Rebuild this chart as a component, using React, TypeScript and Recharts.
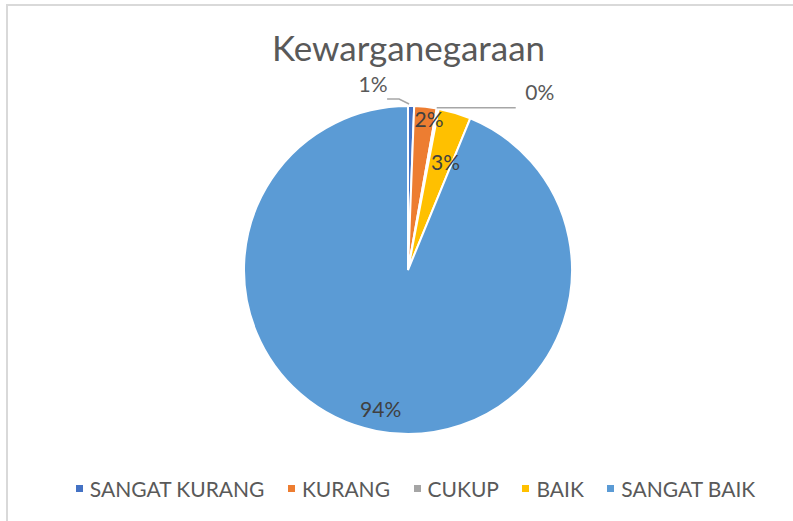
import React from 'react';
import { PieChart, Pie, Cell, Legend } from 'recharts';

const categories = ['SANGAT KURANG', 'KURANG', 'CUKUP', 'BAIK', 'SANGAT BAIK'];
const values = [0.6, 2.2, 0.2, 3.2, 93.8];
const colors = ['#4472C4', '#ED7D31', '#A5A5A5', '#FFC000', '#5B9BD5'];

const data = categories.map((name, i) => ({ name, value: values[i] }));

const RAD = Math.PI / 180;
const FONT = 'Lato, "Open Sans", sans-serif';
const TEXT = '#595959';

// where each label sits: inside (radius fraction) or outside with a leader line
const labelPlacement = [
  { side: 'left' },
  { inside: 0.93, shift: 1.8 },
  { side: 'right' },
  { inside: 0.7, shift: 2.5 },
  { inside: 0.86, shift: 0 },
];

function renderLabel(props: any) {
  const { cx, cy, midAngle, outerRadius, percent, index } = props;
  const text = `${Math.round(percent * 100)}%`;
  const p: any = labelPlacement[index];
  if (p.inside) {
    const a = (midAngle - p.shift) * RAD;
    const r = outerRadius * p.inside;
    const x = cx + r * Math.cos(-a);
    const y = cy + r * Math.sin(-a);
    return (
      <text x={x} y={y} fill="#404040" fontSize={21} fontFamily={FONT} textAnchor="middle" dominantBaseline="central">
        {text}
      </text>
    );
  }
  const a = midAngle * RAD;
  const ex = cx + outerRadius * Math.cos(-a);
  const ey = cy + outerRadius * Math.sin(-a);
  if (p.side === 'left') {
    const pts = `${ex - 2},${ey - 2} ${ex - 12},${ey - 7} ${ex - 24},${ey - 7}`;
    return (
      <g>
        <polyline points={pts} fill="none" stroke="#A6A6A6" strokeWidth={1.5} />
        <text x={ex - 38} y={ey - 23} fill={TEXT} fontSize={21} fontFamily={FONT} textAnchor="middle" dominantBaseline="central">
          {text}
        </text>
      </g>
    );
  }
  const pts = `${ex - 1},${ey - 1} ${ex + 78},${ey - 1}`;
  return (
    <g>
      <polyline points={pts} fill="none" stroke="#A6A6A6" strokeWidth={1.5} />
      <text x={ex + 102} y={ey - 17} fill={TEXT} fontSize={21} fontFamily={FONT} textAnchor="middle" dominantBaseline="central">
        {text}
      </text>
    </g>
  );
}

function renderLegend() {
  return (
    <div style={{ display: 'flex', justifyContent: 'center', gap: 23.5, fontFamily: FONT, fontSize: 21, color: TEXT }}>
      {categories.map((c, i) => (
        <div key={c} style={{ display: 'flex', alignItems: 'center', gap: 7 }}>
          <span style={{ width: 7, height: 7, background: colors[i], display: 'inline-block' }} />
          <span>{c}</span>
        </div>
      ))}
    </div>
  );
}

export default function App() {
  return (
    <div style={{ position: 'fixed', left: 0, top: 0, width: 793, height: 521, overflow: 'hidden', background: '#fff' }}>
      <div
        style={{
          position: 'absolute',
          left: 6,
          top: 4,
          width: 820,
          height: 540,
          border: '2px solid #D9D9D9',
          boxSizing: 'border-box',
        }}
      />
      <div
        style={{
          position: 'absolute',
          left: 0,
          width: 817,
          top: 26,
          textAlign: 'center',
          fontFamily: FONT,
          fontSize: 35,
          color: TEXT,
        }}
      >
        Kewarganegaraan
      </div>
      <div style={{ position: 'absolute', left: 0, top: 0 }}>
        <PieChart width={817} height={521} margin={{ top: 0, right: 0, bottom: 0, left: 0 }}>
          <Pie
            data={data}
            dataKey="value"
            nameKey="name"
            cx={408}
            cy={270}
            outerRadius={164}
            startAngle={90}
            endAngle={-270}
            stroke="#fff"
            strokeWidth={2}
            label={renderLabel}
            labelLine={false}
            isAnimationActive={false}
          >
            {data.map((d, i) => (
              <Cell key={d.name} fill={colors[i]} />
            ))}
          </Pie>
          <Legend
            verticalAlign="bottom"
            content={renderLegend}
            wrapperStyle={{ bottom: 20, left: 7, width: 817 }}
          />
        </PieChart>
      </div>
    </div>
  );
}
